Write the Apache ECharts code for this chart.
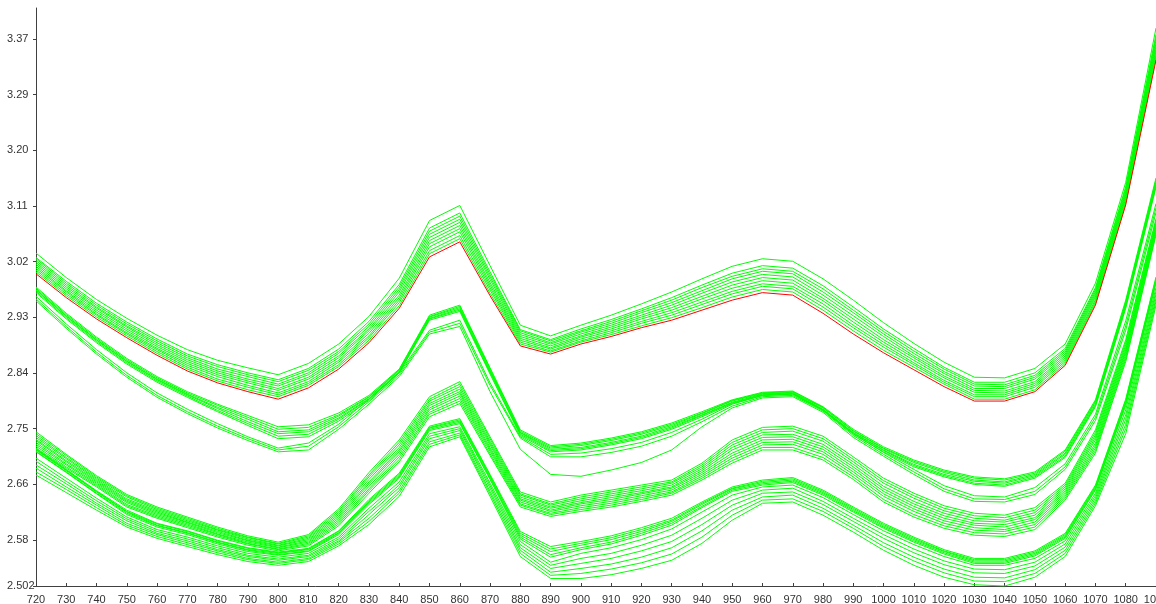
<!DOCTYPE html>
<html>
<head>
<meta charset="utf-8">
<script src="https://cdn.jsdelivr.net/npm/echarts@6/dist/echarts.min.js"></script>
<style>
  html, body { margin: 0; padding: 0; background: #ffffff; }
  #chart { width: 1156px; height: 604px; }
</style>
</head>
<body>
<div id="chart"></div>
<script>
// Wavelengths (nm), one reading every 10 nm
const wavelengths = [720,730,740,750,760,770,780,790,800,810,820,830,840,850,860,870,880,890,900,910,920,930,940,950,960,970,980,990,1000,1010,1020,1030,1040,1050,1060,1070,1080,1090];

// Y axis bounds and tick positions
const yMin = 2.502;
const yMax = 3.424;
const yTicks = [2.502, 2.5756, 2.6644, 2.7532, 2.842, 2.9308, 3.0196, 3.1084, 3.1972, 3.286, 3.3748];

// Reference spectrum (red)
const referenceSpectrum = [3.000,2.962,2.928,2.898,2.870,2.845,2.826,2.812,2.800,2.818,2.848,2.890,2.945,3.027,3.051,2.965,2.885,2.872,2.888,2.900,2.914,2.926,2.942,2.958,2.970,2.966,2.937,2.904,2.874,2.847,2.820,2.797,2.797,2.812,2.854,2.950,3.110,3.341];

// Upper family of sample spectra
const bandA = [
  [3.033,2.994,2.959,2.929,2.902,2.879,2.862,2.850,2.839,2.857,2.888,2.932,2.993,3.085,3.109,3.013,2.918,2.901,2.918,2.934,2.952,2.971,2.992,3.012,3.024,3.020,2.992,2.958,2.922,2.889,2.859,2.835,2.834,2.849,2.888,2.985,3.146,3.392],
  [3.026,2.988,2.953,2.923,2.896,2.872,2.855,2.842,2.831,2.849,2.880,2.924,2.983,3.073,3.097,3.003,2.911,2.895,2.912,2.927,2.944,2.962,2.982,3.001,3.013,3.009,2.981,2.947,2.912,2.881,2.851,2.827,2.827,2.842,2.881,2.978,3.139,3.382],
  [3.024,2.985,2.950,2.920,2.893,2.869,2.852,2.839,2.828,2.846,2.876,2.920,2.979,3.068,3.092,2.999,2.909,2.893,2.909,2.924,2.941,2.958,2.978,2.996,3.008,3.004,2.976,2.942,2.908,2.877,2.848,2.824,2.823,2.838,2.878,2.975,3.136,3.377],
  [3.021,2.982,2.947,2.917,2.890,2.866,2.848,2.836,2.824,2.842,2.873,2.916,2.975,3.063,3.087,2.995,2.906,2.890,2.907,2.921,2.938,2.954,2.973,2.992,3.004,3.000,2.971,2.938,2.904,2.873,2.844,2.821,2.820,2.835,2.875,2.972,3.132,3.373],
  [3.018,2.979,2.945,2.915,2.887,2.863,2.845,2.832,2.821,2.839,2.869,2.912,2.971,3.058,3.082,2.991,2.903,2.888,2.904,2.918,2.934,2.950,2.969,2.987,2.999,2.995,2.966,2.933,2.900,2.869,2.841,2.817,2.817,2.832,2.872,2.969,3.129,3.368],
  [3.015,2.976,2.942,2.912,2.884,2.860,2.842,2.829,2.817,2.835,2.866,2.909,2.966,3.053,3.077,2.986,2.900,2.885,2.901,2.915,2.931,2.946,2.964,2.982,2.994,2.990,2.961,2.928,2.895,2.866,2.837,2.814,2.813,2.828,2.869,2.966,3.126,3.364],
  [3.012,2.973,2.939,2.909,2.881,2.857,2.839,2.826,2.814,2.832,2.862,2.905,2.962,3.048,3.072,2.982,2.897,2.882,2.899,2.912,2.928,2.942,2.960,2.977,2.989,2.985,2.957,2.923,2.891,2.862,2.834,2.811,2.810,2.825,2.866,2.963,3.123,3.359],
  [3.009,2.971,2.936,2.906,2.879,2.854,2.836,2.822,2.810,2.828,2.859,2.901,2.958,3.043,3.067,2.978,2.894,2.880,2.896,2.909,2.924,2.938,2.955,2.972,2.984,2.980,2.952,2.918,2.887,2.858,2.830,2.807,2.807,2.822,2.863,2.959,3.120,3.355],
  [3.006,2.968,2.934,2.904,2.876,2.851,2.832,2.819,2.807,2.825,2.855,2.898,2.954,3.037,3.061,2.974,2.891,2.877,2.893,2.906,2.921,2.934,2.951,2.968,2.980,2.976,2.947,2.914,2.883,2.855,2.827,2.804,2.804,2.819,2.860,2.956,3.116,3.350],
  [3.003,2.965,2.931,2.901,2.873,2.848,2.829,2.815,2.804,2.822,2.852,2.894,2.949,3.032,3.056,2.969,2.888,2.875,2.891,2.903,2.917,2.930,2.946,2.963,2.975,2.971,2.942,2.909,2.878,2.851,2.824,2.800,2.800,2.815,2.857,2.953,3.113,3.346]
];

// Second family (dense bundle)
const bandB = [
  [2.979,2.937,2.899,2.865,2.836,2.812,2.792,2.774,2.756,2.759,2.778,2.806,2.848,2.934,2.950,2.850,2.751,2.726,2.730,2.738,2.748,2.762,2.780,2.799,2.811,2.813,2.788,2.752,2.724,2.703,2.687,2.676,2.673,2.684,2.719,2.799,2.958,3.153],
  [2.977,2.935,2.897,2.863,2.834,2.810,2.790,2.771,2.752,2.755,2.775,2.804,2.847,2.932,2.948,2.848,2.749,2.724,2.728,2.736,2.746,2.760,2.778,2.798,2.810,2.812,2.787,2.750,2.722,2.701,2.685,2.674,2.671,2.682,2.717,2.797,2.955,3.150],
  [2.975,2.933,2.895,2.861,2.832,2.808,2.787,2.768,2.748,2.751,2.773,2.803,2.846,2.931,2.946,2.846,2.747,2.722,2.726,2.734,2.744,2.758,2.777,2.797,2.809,2.811,2.786,2.749,2.721,2.699,2.683,2.671,2.668,2.680,2.714,2.795,2.953,3.147],
  [2.974,2.932,2.894,2.860,2.831,2.807,2.785,2.764,2.745,2.748,2.770,2.801,2.844,2.929,2.944,2.844,2.746,2.720,2.723,2.731,2.741,2.756,2.775,2.795,2.808,2.810,2.784,2.747,2.719,2.696,2.680,2.669,2.666,2.678,2.712,2.792,2.950,3.144],
  [2.972,2.930,2.892,2.858,2.829,2.805,2.782,2.761,2.741,2.744,2.768,2.800,2.843,2.928,2.942,2.842,2.744,2.718,2.721,2.729,2.739,2.754,2.774,2.794,2.807,2.809,2.783,2.746,2.718,2.694,2.678,2.666,2.663,2.676,2.709,2.790,2.948,3.141],
  [2.970,2.928,2.890,2.856,2.827,2.803,2.780,2.758,2.737,2.740,2.765,2.798,2.842,2.926,2.940,2.840,2.742,2.716,2.719,2.727,2.737,2.752,2.772,2.793,2.806,2.808,2.782,2.744,2.716,2.692,2.676,2.664,2.661,2.674,2.707,2.788,2.945,3.138],
  [2.964,2.920,2.879,2.842,2.810,2.784,2.761,2.740,2.722,2.730,2.760,2.800,2.842,2.910,2.926,2.826,2.740,2.712,2.714,2.721,2.731,2.747,2.768,2.792,2.806,2.808,2.783,2.745,2.715,2.688,2.662,2.646,2.644,2.659,2.697,2.776,2.925,3.112],
  [2.960,2.916,2.875,2.838,2.806,2.780,2.757,2.737,2.719,2.725,2.756,2.796,2.839,2.907,2.921,2.822,2.738,2.708,2.708,2.715,2.725,2.741,2.764,2.789,2.804,2.806,2.781,2.742,2.712,2.684,2.657,2.641,2.640,2.653,2.692,2.771,2.917,3.105],
  [2.957,2.913,2.872,2.835,2.803,2.777,2.754,2.734,2.716,2.719,2.752,2.792,2.836,2.904,2.916,2.812,2.720,2.680,2.677,2.687,2.699,2.719,2.756,2.786,2.802,2.804,2.779,2.739,2.709,2.680,2.653,2.637,2.636,2.648,2.688,2.766,2.910,3.098]
];

// Third family (evenly spread)
const bandC = [
  [2.748,2.712,2.678,2.648,2.628,2.612,2.596,2.582,2.572,2.584,2.625,2.683,2.735,2.804,2.828,2.740,2.652,2.636,2.647,2.655,2.663,2.671,2.698,2.735,2.755,2.757,2.741,2.708,2.674,2.650,2.630,2.618,2.615,2.627,2.666,2.751,2.895,3.088],
  [2.745,2.710,2.676,2.646,2.626,2.610,2.594,2.580,2.570,2.582,2.622,2.679,2.731,2.800,2.824,2.737,2.649,2.633,2.644,2.652,2.660,2.668,2.695,2.731,2.751,2.753,2.737,2.704,2.670,2.646,2.626,2.614,2.611,2.623,2.663,2.747,2.891,3.085],
  [2.742,2.707,2.674,2.644,2.624,2.608,2.592,2.579,2.569,2.580,2.619,2.676,2.727,2.797,2.820,2.733,2.647,2.631,2.641,2.649,2.657,2.666,2.692,2.727,2.747,2.749,2.733,2.700,2.666,2.642,2.622,2.610,2.607,2.619,2.660,2.743,2.887,3.082],
  [2.739,2.705,2.672,2.641,2.622,2.606,2.591,2.577,2.567,2.578,2.616,2.672,2.723,2.793,2.816,2.730,2.644,2.628,2.638,2.646,2.654,2.663,2.689,2.723,2.743,2.744,2.728,2.696,2.661,2.637,2.618,2.606,2.604,2.615,2.657,2.739,2.883,3.079],
  [2.736,2.702,2.670,2.639,2.620,2.604,2.589,2.575,2.566,2.576,2.613,2.668,2.719,2.790,2.812,2.727,2.641,2.626,2.635,2.643,2.651,2.660,2.686,2.719,2.739,2.740,2.724,2.692,2.657,2.633,2.614,2.602,2.600,2.611,2.654,2.735,2.879,3.076],
  [2.734,2.700,2.668,2.637,2.618,2.603,2.587,2.574,2.564,2.574,2.610,2.665,2.716,2.786,2.809,2.723,2.639,2.623,2.633,2.640,2.649,2.658,2.683,2.714,2.735,2.736,2.720,2.688,2.653,2.629,2.610,2.599,2.596,2.608,2.651,2.730,2.876,3.074],
  [2.731,2.697,2.666,2.635,2.616,2.601,2.585,2.572,2.563,2.572,2.607,2.661,2.712,2.783,2.805,2.720,2.636,2.621,2.630,2.637,2.646,2.655,2.680,2.710,2.731,2.732,2.716,2.684,2.649,2.625,2.606,2.595,2.592,2.604,2.648,2.726,2.872,3.071],
  [2.728,2.695,2.664,2.632,2.614,2.599,2.584,2.570,2.561,2.570,2.604,2.657,2.708,2.779,2.801,2.717,2.633,2.618,2.627,2.634,2.643,2.652,2.677,2.706,2.727,2.728,2.712,2.680,2.645,2.621,2.602,2.591,2.589,2.600,2.645,2.722,2.868,3.068],
  [2.725,2.692,2.662,2.630,2.612,2.597,2.582,2.569,2.560,2.568,2.601,2.654,2.704,2.776,2.797,2.713,2.631,2.616,2.624,2.631,2.640,2.650,2.674,2.702,2.723,2.723,2.707,2.676,2.640,2.616,2.598,2.587,2.585,2.596,2.642,2.718,2.864,3.065],
  [2.722,2.690,2.660,2.628,2.610,2.595,2.580,2.567,2.558,2.566,2.598,2.650,2.700,2.772,2.793,2.710,2.628,2.613,2.621,2.628,2.637,2.647,2.671,2.698,2.719,2.719,2.703,2.672,2.636,2.612,2.594,2.583,2.581,2.592,2.639,2.714,2.860,3.062]
];

// Lowest family: a tight bundle followed by looser spectra
const bandD = [
  [2.721,2.688,2.654,2.623,2.602,2.590,2.575,2.563,2.556,2.562,2.590,2.640,2.682,2.757,2.769,2.680,2.589,2.565,2.573,2.582,2.595,2.610,2.636,2.660,2.671,2.675,2.655,2.628,2.602,2.580,2.560,2.546,2.546,2.558,2.586,2.663,2.800,2.995],
  [2.720,2.687,2.653,2.621,2.601,2.589,2.574,2.562,2.555,2.561,2.589,2.638,2.680,2.755,2.767,2.678,2.586,2.561,2.570,2.579,2.592,2.607,2.634,2.658,2.669,2.673,2.653,2.626,2.600,2.578,2.558,2.544,2.544,2.556,2.584,2.661,2.798,2.993],
  [2.719,2.686,2.652,2.620,2.599,2.587,2.572,2.560,2.554,2.560,2.587,2.636,2.678,2.754,2.765,2.676,2.583,2.557,2.567,2.576,2.589,2.605,2.632,2.657,2.667,2.671,2.651,2.624,2.598,2.576,2.557,2.542,2.542,2.554,2.582,2.659,2.795,2.990],
  [2.717,2.684,2.650,2.618,2.598,2.586,2.571,2.559,2.552,2.558,2.586,2.634,2.676,2.752,2.763,2.674,2.580,2.552,2.563,2.572,2.586,2.602,2.629,2.655,2.665,2.669,2.649,2.622,2.596,2.574,2.555,2.540,2.540,2.552,2.580,2.657,2.793,2.988],
  [2.716,2.683,2.649,2.616,2.596,2.584,2.569,2.557,2.551,2.557,2.584,2.632,2.674,2.750,2.761,2.672,2.577,2.548,2.560,2.569,2.583,2.599,2.627,2.653,2.663,2.667,2.647,2.620,2.594,2.572,2.553,2.538,2.538,2.550,2.578,2.655,2.790,2.985],
  [2.706,2.674,2.642,2.612,2.592,2.580,2.566,2.554,2.548,2.554,2.580,2.626,2.668,2.745,2.756,2.666,2.573,2.540,2.554,2.563,2.576,2.593,2.620,2.647,2.660,2.663,2.643,2.616,2.590,2.568,2.549,2.535,2.535,2.546,2.574,2.650,2.783,2.978],
  [2.701,2.669,2.638,2.609,2.589,2.577,2.563,2.551,2.545,2.551,2.577,2.621,2.663,2.741,2.753,2.662,2.568,2.535,2.546,2.554,2.567,2.583,2.610,2.639,2.655,2.658,2.637,2.610,2.584,2.561,2.542,2.529,2.528,2.540,2.569,2.646,2.775,2.972],
  [2.695,2.665,2.634,2.606,2.586,2.574,2.560,2.549,2.543,2.549,2.574,2.616,2.659,2.737,2.750,2.658,2.563,2.530,2.538,2.546,2.558,2.573,2.600,2.631,2.650,2.652,2.632,2.605,2.578,2.555,2.536,2.523,2.522,2.534,2.564,2.642,2.768,2.967],
  [2.690,2.660,2.631,2.602,2.584,2.571,2.558,2.546,2.540,2.546,2.572,2.610,2.654,2.732,2.746,2.653,2.559,2.524,2.530,2.537,2.548,2.563,2.590,2.623,2.644,2.647,2.626,2.599,2.571,2.548,2.529,2.516,2.515,2.528,2.559,2.638,2.760,2.961],
  [2.684,2.656,2.627,2.599,2.581,2.568,2.555,2.544,2.538,2.544,2.569,2.605,2.650,2.728,2.743,2.649,2.554,2.519,2.522,2.529,2.539,2.553,2.580,2.615,2.639,2.641,2.621,2.594,2.565,2.542,2.523,2.510,2.509,2.522,2.554,2.634,2.753,2.956],
  [2.679,2.651,2.623,2.596,2.578,2.565,2.552,2.541,2.535,2.541,2.566,2.600,2.645,2.724,2.740,2.645,2.549,2.514,2.514,2.520,2.530,2.543,2.570,2.607,2.634,2.636,2.615,2.588,2.559,2.535,2.516,2.504,2.502,2.516,2.549,2.630,2.745,2.950]
];

const chart = echarts.init(document.getElementById('chart'), null, { renderer: 'canvas' });

function toPairs(values) {
  return values.map((v, i) => [wavelengths[i], v]);
}

function spectrumSeries(name, values, color, z) {
  return {
    name: name,
    type: 'line',
    data: toPairs(values),
    showSymbol: false,
    silent: true,
    clip: true,
    lineStyle: { color: color, width: 1 },
    z: z
  };
}

const series = [];
[bandA, bandB, bandC, bandD].forEach((band, b) => {
  band.forEach((s, i) => series.push(spectrumSeries('band' + b + '-' + i, s, '#00ff00', 2)));
});
series.push(spectrumSeries('reference', referenceSpectrum, '#ff0000', 3));

const axisColor = '#404040';
const labelStyle = { color: '#333333', fontFamily: 'Liberation Sans, Arial, sans-serif', fontSize: 11 };

chart.setOption({
  animation: false,
  backgroundColor: '#ffffff',
  grid: { left: 36, right: 0, top: 8, bottom: 18, containLabel: false, outerBoundsMode: 'none' },
  xAxis: {
    type: 'value',
    min: 720,
    max: 1090,
    interval: 10,
    axisLine: { show: true, lineStyle: { color: axisColor, width: 1 } },
    axisTick: { show: true, inside: true, length: 3, lineStyle: { color: axisColor } },
    axisLabel: Object.assign({
      margin: 8,
      showMinLabel: true,
      showMaxLabel: true,
      hideOverlap: false,
      formatter: v => String(v)
    }, labelStyle),
    splitLine: { show: false }
  },
  yAxis: {
    type: 'value',
    min: yMin,
    max: yMax,
    axisLine: { show: true, lineStyle: { color: axisColor, width: 1 } },
    axisTick: { show: true, length: 3, customValues: yTicks, lineStyle: { color: axisColor } },
    axisLabel: Object.assign({
      align: 'left',
      margin: 29,
      customValues: yTicks,
      formatter: v => (Math.abs(v - yMin) < 1e-6 ? yMin.toFixed(3) : v.toFixed(2))
    }, labelStyle),
    splitLine: { show: false }
  },
  series: series
});
</script>
</body>
</html>
